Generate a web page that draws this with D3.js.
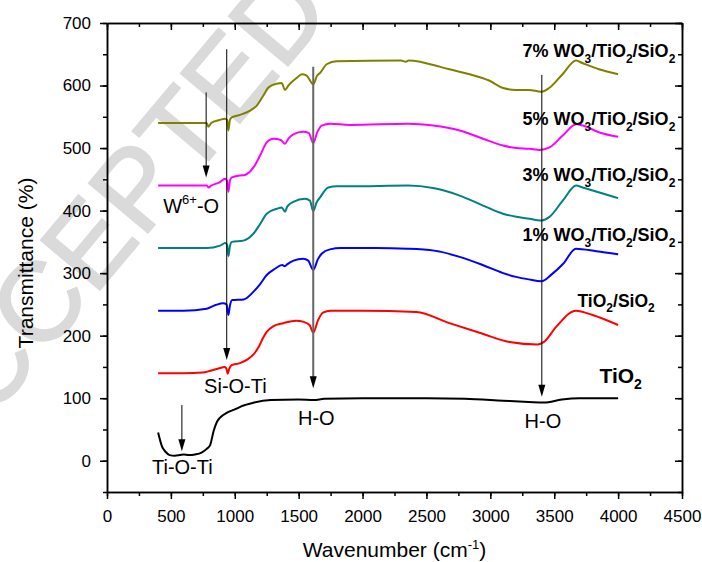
<!DOCTYPE html>
<html>
<head>
<meta charset="utf-8">
<script src="https://cdnjs.cloudflare.com/ajax/libs/d3/7.8.5/d3.min.js"></script>
<style>
    body { margin: 0; background: #fff; }
    svg { display: block; font-family: "Liberation Sans", Arial, sans-serif; }
    .curve { fill: none; stroke-width: 2; stroke-linejoin: round; }
    .axis path, .axis line { stroke: #000; stroke-width: 1.5; }
    .axis text { font-size: 17px; fill: #000; }
    .label { font-weight: bold; fill: #000; }
    .band { font-size: 20px; fill: #000; }
    .watermark { font-size: 112px; fill: #dadada; stroke: #dadada; stroke-width: 2; }
</style>
</head>
<body>
<svg id="svg" width="702" height="562"></svg>
<script>

// wavenumber (cm-1), transmittance (%)
var tio2 = [[400, 45], [430, 23], [460, 14], [490, 9], [530, 8], [570, 9], [600, 10], [640, 9], [690, 10],
    [740, 13], [780, 19], [807, 25], [835, 48], [860, 62], [885, 69], [940, 77], [1000, 82], [1050, 87],
    [1150, 93], [1280, 97], [1500, 98], [1620, 97], [1700, 99], [2000, 100], [2500, 100], [2800, 99],
    [3100, 96], [3300, 94], [3420, 93], [3560, 98], [3700, 100], [4000, 100]];

var tio2Sio2 = [[400, 140], [600, 140], [750, 141], [810, 144], [880, 148], [920, 150], [935, 147], [945, 139],
    [955, 146], [975, 153], [1040, 156], [1100, 162], [1150, 171], [1190, 183], [1220, 196], [1250, 206],
    [1300, 215], [1380, 220], [1480, 224], [1540, 222], [1585, 217], [1615, 205], [1650, 224], [1690, 237],
    [1750, 240], [2000, 240], [2420, 238], [2680, 220], [2940, 203], [3150, 190], [3370, 186], [3420, 190],
    [3515, 214], [3670, 240], [3800, 233], [4000, 217]];

var wo1 = [[400, 240], [600, 240], [780, 243], [850, 249], [910, 252], [935, 250], [950, 233], [962, 248],
    [980, 257], [1070, 258], [1145, 270], [1200, 283], [1250, 297], [1315, 307], [1370, 313], [1392, 311],
    [1410, 314], [1460, 320], [1535, 323], [1575, 320], [1614, 305], [1650, 322], [1680, 331], [1745, 338],
    [1830, 340], [2100, 340], [2350, 339], [2560, 336], [2760, 326], [2940, 313], [3100, 300], [3200, 294],
    [3300, 290], [3400, 287], [3480, 298], [3570, 315], [3670, 339], [3830, 335], [4000, 330]];

var wo3 = [[400, 340], [780, 340], [885, 344], [925, 348], [940, 345], [950, 327], [962, 343], [977, 350],
    [1067, 352], [1145, 363], [1200, 379], [1250, 395], [1330, 403], [1368, 405], [1393, 398], [1410, 406],
    [1458, 414], [1549, 419], [1588, 416], [1614, 399], [1640, 413], [1667, 421], [1732, 437], [1800, 439],
    [1900, 439], [2357, 440], [2552, 436], [2760, 424], [2943, 408], [3099, 395], [3203, 390], [3307, 387],
    [3390, 384], [3463, 390], [3567, 416], [3672, 440], [3723, 437], [3854, 429], [4000, 420]];

var wo5 = [[400, 440], [780, 440], [794, 437], [815, 440], [880, 445], [925, 451], [940, 447], [950, 430],
    [962, 448], [977, 453], [1041, 456], [1080, 457], [1146, 469], [1198, 488], [1250, 509], [1302, 515],
    [1360, 513], [1393, 507], [1420, 515], [1458, 522], [1536, 526], [1580, 524], [1614, 508], [1645, 525],
    [1680, 536], [1745, 539], [1900, 537], [2357, 539], [2552, 536], [2760, 528], [2943, 515], [3099, 504],
    [3203, 500], [3307, 499], [3385, 497], [3463, 501], [3567, 520], [3672, 538], [3723, 536], [3854, 525],
    [4000, 518]];

var wo7 = [[400, 540], [780, 540], [794, 534], [815, 540], [880, 545], [924, 547], [940, 545], [950, 528],
    [962, 545], [977, 549], [1041, 553], [1120, 560], [1172, 568], [1224, 584], [1263, 597], [1328, 603],
    [1367, 604], [1393, 593], [1419, 600], [1484, 612], [1525, 618], [1562, 616], [1614, 602], [1645, 616],
    [1667, 620], [1719, 634], [1797, 639], [2300, 640], [2340, 638], [2360, 640], [2450, 638], [2530, 634],
    [2680, 626], [2840, 618], [2990, 608], [3100, 596], [3200, 593], [3300, 593], [3400, 590], [3460, 596],
    [3565, 618], [3670, 640], [3720, 636], [3850, 626], [4000, 618]];

var seriesNames = ['TiO2', 'TiO2/SiO2', '1% WO3/TiO2/SiO2', '3% WO3/TiO2/SiO2', '5% WO3/TiO2/SiO2', '7% WO3/TiO2/SiO2'];

var bandNames = ['Ti-O-Ti', 'W6+-O', 'Si-O-Ti', 'H-O', 'H-O'],
    bandWavenumbers = [586, 776, 937, 1614, 3403];

var xTicks = [0, 500, 1000, 1500, 2000, 2500, 3000, 3500, 4000, 4500],
    yTicks = [0, 100, 200, 300, 400, 500, 600, 700];

(function () {

    var box = {left: 107, top: 23, width: 575, height: 469},
        colors = ['#000000', '#ff0000', '#0000ff', '#008080', '#ff00ff', '#808000'],
        fmt = d3.format('d');

    var $svg = d3.select('#svg');

    // watermark sits under everything
    $svg.append('text')
        .attr('class', 'watermark')
        .attr('transform', 'translate(-58,478) rotate(-50)')
        .text('ACCEPTED');

    var $plot = $svg
        .append('g')
        .attr('transform', 'translate(' + box.left + ',' + box.top + ')');

    var x = d3.scaleLinear().domain([0, 4500]).range([0, box.width]),
        y = d3.scaleLinear().domain([-50, 700]).range([box.height, 0]);

    var xMinor = d3.range(0, 4501, 250),
        yMinor = d3.range(-50, 701, 50);

    // minor ticks first, then majors with labels
    $plot.append('g').attr('class', 'axis')
        .attr('transform', 'translate(0,' + box.height + ')')
        .call(d3.axisBottom(x).tickValues(xMinor).tickSize(4).tickSizeOuter(0).tickFormat(''));
    $plot.append('g').attr('class', 'axis')
        .attr('transform', 'translate(0,' + box.height + ')')
        .call(d3.axisBottom(x).tickValues(xTicks).tickSize(7).tickSizeOuter(0).tickPadding(11).tickFormat(fmt));

    $plot.append('g').attr('class', 'axis')
        .call(d3.axisLeft(y).tickValues(yMinor).tickSize(4).tickSizeOuter(0).tickFormat(''));
    $plot.append('g').attr('class', 'axis')
        .call(d3.axisLeft(y).tickValues(yTicks).tickSize(7).tickSizeOuter(0).tickPadding(9).tickFormat(fmt));

    $plot.append('g').attr('class', 'axis')
        .call(d3.axisTop(x).tickValues(xMinor).tickSize(-4).tickSizeOuter(0).tickFormat(''));
    $plot.append('g').attr('class', 'axis')
        .call(d3.axisTop(x).tickValues(xTicks).tickSize(-7).tickSizeOuter(0).tickFormat(''));

    $plot.append('g').attr('class', 'axis')
        .attr('transform', 'translate(' + box.width + ',0)')
        .call(d3.axisRight(y).tickValues(yMinor).tickSize(-4).tickSizeOuter(0).tickFormat(''));
    $plot.append('g').attr('class', 'axis')
        .attr('transform', 'translate(' + box.width + ',0)')
        .call(d3.axisRight(y).tickValues(yTicks).tickSize(-7).tickSizeOuter(0).tickFormat(''));

    // axis titles
    var $xt = $svg.append('text')
        .attr('x', box.left + box.width / 2)
        .attr('y', 557)
        .attr('text-anchor', 'middle')
        .style('font-size', '21px');
    $xt.append('tspan').text('Wavenumber (cm');
    $xt.append('tspan').attr('dy', -8).style('font-size', '13px').text('-1');
    $xt.append('tspan').attr('dy', 8).text(')');

    $svg.append('text')
        .attr('transform', 'translate(33,263) rotate(-90)')
        .attr('text-anchor', 'middle')
        .style('font-size', '21px')
        .text('Transmittance (%)');

    // spectra
    var line = d3.line()
        .x(function (d) { return x(d[0]); })
        .y(function (d) { return y(d[1]); })
        .curve(d3.curveMonotoneX);

    [tio2, tio2Sio2, wo1, wo3, wo5, wo7].forEach(function (s, i) {
        $plot.append('path')
            .attr('class', 'curve')
            .attr('stroke', colors[i])
            .attr('d', line(s));
    });

    // chemistry label: a digit right after a letter becomes a subscript
    function chemText($t, str, size, small, shift) {
        var re = /([A-Za-z])(\d)/g, out = [], last = 0, m;
        while ((m = re.exec(str)) !== null) {
            out.push([str.slice(last, m.index + 1), 0]);
            out.push([m[2], 1]);
            last = m.index + 2;
        }
        out.push([str.slice(last), 0]);
        var down = 0;
        out.forEach(function (p) {
            if (!p[0]) return;
            var dy = p[1] ? shift - down : -down;
            down = p[1] ? shift : 0;
            $t.append('tspan')
                .attr('dy', dy)
                .style('font-size', (p[1] ? small : size) + 'px')
                .text(p[0]);
        });
    }

    var labelPos = [[3854, 124, 21, 14, 6], [3682, 246, 17.5, 12, 5], [3252, 351, 18, 12, 6],
        [3252, 448, 18, 12, 6], [3252, 537, 18, 12, 6], [3252, 646, 18, 12, 6]];

    seriesNames.forEach(function (name, i) {
        var p = labelPos[i];
        var $t = $plot.append('text')
            .attr('class', 'label')
            .attr('x', x(p[0]))
            .attr('y', y(p[1]));
        chemText($t, name, p[2], p[3], p[4]);
    });

    // band arrows
    var arrowSpan = [[89, 15], [589, 453], [658, 161], [630, 116], [617, 102.5]],
        arrowStyle = [['#000', 1], ['#000', 1], ['#000', 1], ['#666', 2], ['#000', 1]];

    bandWavenumbers.forEach(function (w, i) {
        var ax = x(w), y1 = y(arrowSpan[i][0]), y2 = y(arrowSpan[i][1]);
        $plot.append('line')
            .attr('x1', ax).attr('x2', ax)
            .attr('y1', y1).attr('y2', y2 - 8)
            .attr('stroke', arrowStyle[i][0])
            .attr('stroke-width', arrowStyle[i][1]);
        $plot.append('path')
            .attr('d', 'M' + (ax - 3.5) + ',' + (y2 - 12) + 'L' + (ax + 3.5) + ',' + (y2 - 12) + 'L' + ax + ',' + y2 + 'Z')
            .attr('fill', '#000');
    });

    var bandLabelPos = [[352, -22], [440, 395.5], [760, 108], [1495, 57], [3268, 53]];

    bandNames.forEach(function (name, i) {
        var $t = $plot.append('text')
            .attr('class', 'band')
            .attr('x', x(bandLabelPos[i][0]))
            .attr('y', y(bandLabelPos[i][1]));
        if (name.indexOf('6+') > 0) {
            $t.append('tspan').text('W');
            $t.append('tspan').attr('dy', -9).style('font-size', '13px').text('6+');
            $t.append('tspan').attr('dy', 9).text('-O');
        } else {
            $t.text(name);
        }
    });

})();

</script>
</body>
</html>
